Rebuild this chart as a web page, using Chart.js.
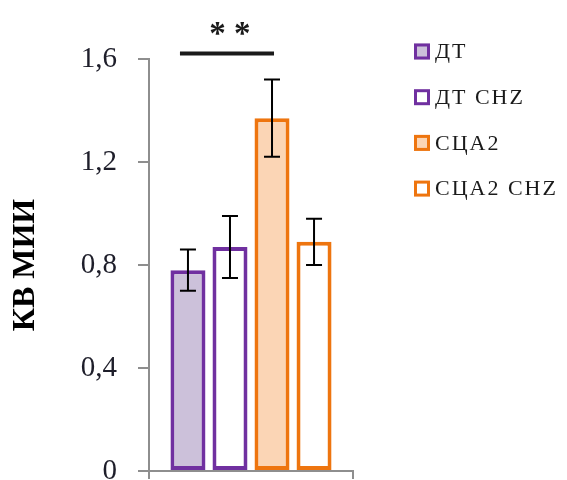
<!DOCTYPE html>
<html>
<head>
<meta charset="utf-8">
<script src="https://cdn.jsdelivr.net/npm/chart.js@4/dist/chart.umd.min.js"></script>
<style>
  html, body { margin: 0; padding: 0; background: #ffffff; }
  #wrap { width: 567px; height: 480px; }
</style>
</head>
<body>
<div id="wrap"><canvas id="chart" width="567" height="480"></canvas></div>
<script>
// Group labels on the category axis (one unnamed group)
const categories = [''];
// Series shown in the legend
const seriesNames = ['ДТ', 'ДТ CHZ', 'СЦА2', 'СЦА2 CHZ'];
// Mean values per series
const meanValues = [0.78, 0.87, 1.37, 0.89];
// Error (± half-range) per series
const errorValues = [0.08, 0.12, 0.15, 0.09];
// Y axis ticks
const yTicks = [0, 0.4, 0.8, 1.2, 1.6];
// Significance bracket: series indexes it spans and its marker
const sigPair = [0, 2];
const sigLabel = '* *';

const fillColors = ['#CCC1DA', '#FFFFFF', '#FBD5B5', '#FFFFFF'];
const edgeColors = ['#7030A0', '#7030A0', '#EE750F', '#EE750F'];
const axisGray = '#8e8e8e';
const serif = "'Liberation Serif', 'Times New Roman', serif";

const datasets = seriesNames.map((name, i) => ({
  label: name,
  data: [meanValues[i]],
  backgroundColor: fillColors[i],
  borderColor: edgeColors[i],
  borderWidth: 4,
  borderSkipped: false,
  categoryPercentage: 0.824,
  barPercentage: 0.833
}));

// Vertical error bars with caps
const errorBarPlugin = {
  id: 'errorBars',
  afterDatasetsDraw(chart) {
    const ctx = chart.ctx;
    const y = chart.scales.y;
    ctx.save();
    ctx.strokeStyle = '#000000';
    ctx.lineWidth = 2;
    chart.data.datasets.forEach((ds, i) => {
      const bar = chart.getDatasetMeta(i).data[0];
      const v = ds.data[0];
      const e = errorValues[i];
      const yTop = y.getPixelForValue(v + e);
      const yBot = y.getPixelForValue(v - e);
      const cap = 8;
      ctx.beginPath();
      ctx.moveTo(bar.x, yTop); ctx.lineTo(bar.x, yBot);
      ctx.moveTo(bar.x - cap, yTop); ctx.lineTo(bar.x + cap, yTop);
      ctx.moveTo(bar.x - cap, yBot); ctx.lineTo(bar.x + cap, yBot);
      ctx.stroke();
    });
    ctx.restore();
  }
};

// Significance bracket with stars above the plot
const significancePlugin = {
  id: 'significance',
  afterDraw(chart) {
    const ctx = chart.ctx;
    const a = chart.getDatasetMeta(sigPair[0]).data[0];
    const b = chart.getDatasetMeta(sigPair[1]).data[0];
    const top = chart.chartArea.top;
    ctx.save();
    ctx.strokeStyle = '#1a1a1a';
    ctx.lineWidth = 4;
    ctx.beginPath();
    ctx.moveTo(a.x - 8, top - 5.5);
    ctx.lineTo(b.x + 2, top - 5.5);
    ctx.stroke();
    ctx.fillStyle = '#1a1a1a';
    ctx.font = 'bold 33px ' + serif;
    ctx.textAlign = 'center';
    ctx.textBaseline = 'middle';
    ctx.fillText(sigLabel, (a.x + b.x) / 2, top - 24);
    ctx.restore();
  }
};

// Legend drawn in the right margin
const sideLegendPlugin = {
  id: 'sideLegend',
  afterDraw(chart) {
    const ctx = chart.ctx;
    const boxX = chart.chartArea.right + 61;
    ctx.save();
    ctx.font = '22px ' + serif;
    ctx.letterSpacing = '2px';
    ctx.textBaseline = 'middle';
    ctx.textAlign = 'left';
    chart.data.datasets.forEach((ds, i) => {
      const cy = 51.5 + i * 45.7;
      ctx.fillStyle = ds.backgroundColor;
      ctx.fillRect(boxX, cy - 8, 16, 16);
      ctx.strokeStyle = ds.borderColor;
      ctx.lineWidth = 3;
      ctx.strokeRect(boxX + 1.5, cy - 6.5, 13, 13);
      ctx.fillStyle = '#1a1a1a';
      ctx.fillText(ds.label, boxX + 21, cy + 1);
    });
    ctx.restore();
  }
};

new Chart(document.getElementById('chart'), {
  type: 'bar',
  data: { labels: categories, datasets },
  options: {
    responsive: false,
    animation: false,
    devicePixelRatio: 1,
    layout: { padding: { top: 59, right: 214, bottom: 1, left: 0 } },
    plugins: {
      legend: { display: false },
      tooltip: { enabled: false }
    },
    scales: {
      x: {
        type: 'category',
        grid: {
          display: true, drawOnChartArea: false, offset: true,
          tickLength: 8, color: axisGray, lineWidth: 2
        },
        border: { display: true, color: axisGray, width: 2 },
        ticks: { display: false }
      },
      y: {
        min: 0,
        max: 1.6,
        afterBuildTicks(scale) {
          scale.ticks = yTicks.map(v => ({ value: v }));
        },
        afterFit(scale) {
          scale.width = 149;
          scale.paddingTop = 0;
          scale.paddingBottom = 0;
        },
        grid: {
          display: true, drawOnChartArea: false,
          tickLength: 11, color: axisGray, lineWidth: 2
        },
        border: { display: true, color: axisGray, width: 2 },
        ticks: {
          padding: 21,
          color: '#1e1e2a',
          font: { family: serif, size: 29 },
          callback: v => (v === 0 ? '0' : Number(v).toFixed(1).replace('.', ','))
        },
        title: {
          display: true,
          text: 'КВ МИИ',
          color: '#000000',
          font: { family: serif, size: 32, weight: 'bold' },
          padding: { top: 7, bottom: 0 }
        }
      }
    }
  },
  plugins: [errorBarPlugin, significancePlugin, sideLegendPlugin]
});
</script>
</body>
</html>
